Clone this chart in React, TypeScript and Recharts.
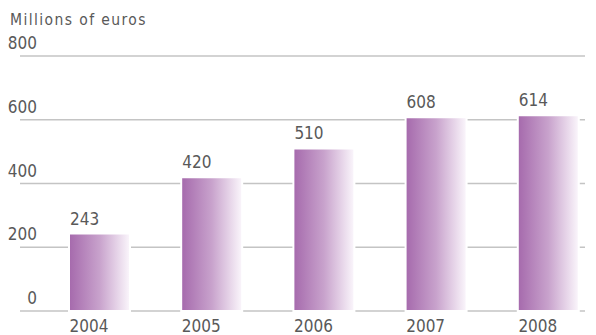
import { BarChart, Bar, XAxis, YAxis, CartesianGrid, LabelList } from "recharts";

const years = ["2004", "2005", "2006", "2007", "2008"];
const revenue = [243, 420, 510, 608, 614];
const yTicks = [0, 200, 400, 600, 800];

const data = years.map((year, i) => ({ year, value: revenue[i] }));

const FONT = "'DejaVu Sans Condensed', 'DejaVu Sans', sans-serif";
const TEXT = "#595959";
const BAR_W = 61;
const NUM_SIZE = 17;

const YTick = (props: any) => {
  const { x, y, payload } = props;
  return (
    <text x={x + 17} y={y - 7} textAnchor="end" fill={TEXT} fontSize={NUM_SIZE} fontFamily={FONT}>
      {payload.value}
    </text>
  );
};

const XTick = (props: any) => {
  const { x, y, payload } = props;
  return (
    <text x={x - BAR_W / 2 + 1} y={y + 21} textAnchor="start" fill={TEXT} fontSize={NUM_SIZE} fontFamily={FONT}>
      {payload.value}
    </text>
  );
};

const ValueLabel = (props: any) => {
  const { x, y, value } = props;
  return (
    <text x={x + 1} y={y - 9} textAnchor="start" fill={TEXT} fontSize={NUM_SIZE} fontFamily={FONT}>
      {value}
    </text>
  );
};

export default function App() {
  return (
    <div style={{ position: "absolute", left: 0, top: 0, width: 596, height: 335 }}>
      <BarChart
        width={596}
        height={335}
        data={data}
        margin={{ top: 56, right: 11, bottom: 0, left: 0 }}
      >
        <defs>
          <linearGradient id="barFill" x1="0" y1="0" x2="1" y2="0">
            <stop offset="0%" stopColor="#a569ac" />
            <stop offset="50%" stopColor="#c8a2cc" />
            <stop offset="100%" stopColor="#fbf7fc" />
          </linearGradient>
        </defs>
        <text x={10} y={25} fill={TEXT} fontSize={15.5} letterSpacing={1.4} fontFamily={FONT}>
          Millions of euros
        </text>
        <CartesianGrid vertical={false} stroke="#c4c4c4" strokeWidth={1.5} />
        <XAxis
          dataKey="year"
          axisLine={false}
          tickLine={false}
          tickSize={0}
          tickMargin={0}
          height={24}
          padding={{ left: 23, right: -19 }}
          tick={<XTick />}
          interval={0}
        />
        <YAxis
          domain={[0, 800]}
          ticks={yTicks}
          axisLine={false}
          tickLine={false}
          tickSize={0}
          tickMargin={0}
          width={20}
          tick={<YTick />}
          interval={0}
        />
        <Bar
          dataKey="value"
          fill="url(#barFill)"
          stroke="#ffffff"
          strokeWidth={2}
          barSize={BAR_W}
          isAnimationActive={false}
        >
          <LabelList dataKey="value" content={<ValueLabel />} />
        </Bar>
      </BarChart>
    </div>
  );
}
